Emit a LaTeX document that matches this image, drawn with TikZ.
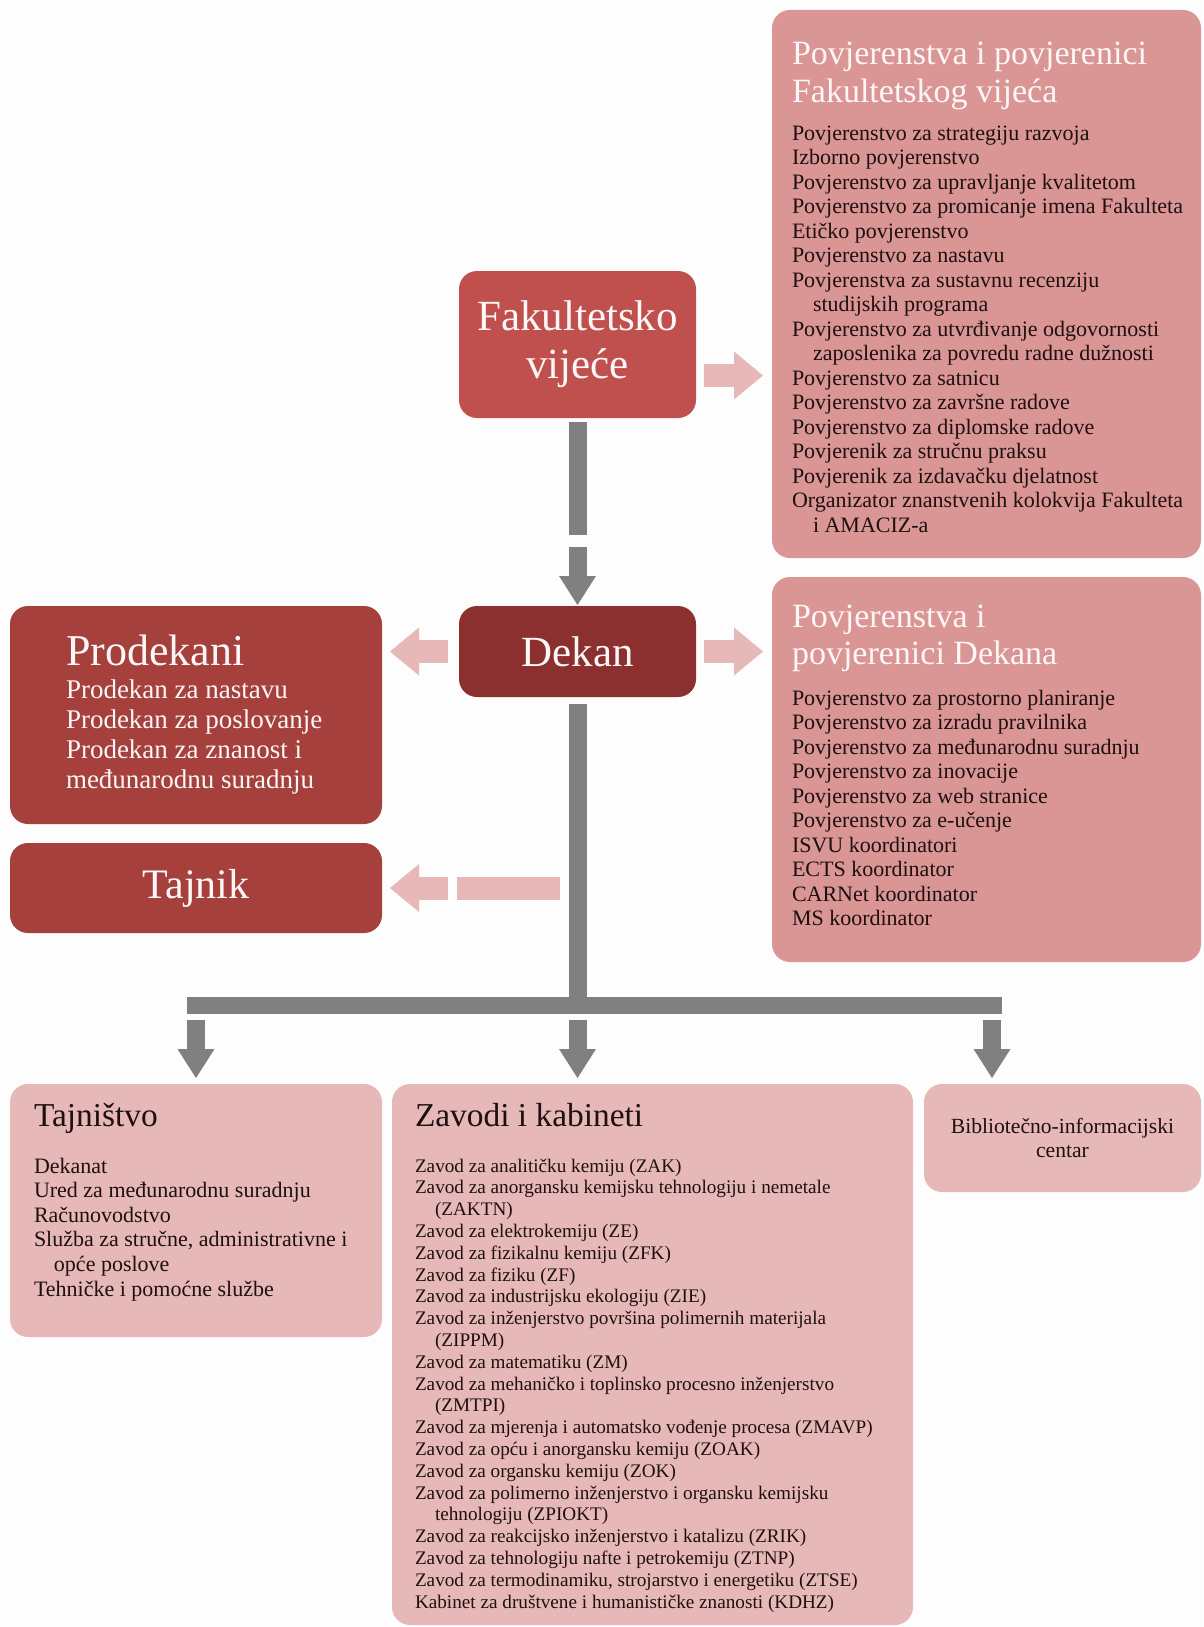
\documentclass[tikz,border=0pt]{standalone}
\usepackage{fontspec}
\setmainfont{Liberation Serif}
\usepackage{tikz}
\usetikzlibrary{arrows.meta, positioning, calc}
\usepackage{xcolor}
\definecolor{vijece}{RGB}{192, 80, 77}
\definecolor{dekanred}{RGB}{140, 47, 47}
\definecolor{prored}{RGB}{165, 64, 61}
\definecolor{rose}{RGB}{217, 150, 148}
\definecolor{blush}{RGB}{230, 185, 184}
\definecolor{flow}{RGB}{128, 128, 128}
\definecolor{ink}{RGB}{30, 16, 16}
\definecolor{paper}{RGB}{253, 253, 253}
\definecolor{snow}{RGB}{253, 247, 247}

\begin{document}
\begin{tikzpicture}[
      x=1pt, y=-1pt,
      every node/.style={inner sep=0pt, outer sep=0pt},
      box/.style={rectangle, rounded corners=18pt, anchor=north west},
      head/.style={text=snow, align=center},
      title/.style={anchor=base west, align=left},
      list/.style={anchor=base west, align=left, text=ink},
      spine/.style={draw=flow, line width=18pt},
      down/.style={draw=flow, line width=18pt,
                   -{Triangle[width=37pt, length=29pt, line width=0pt]}},
      side/.style={draw=blush, line width=23pt,
                   -{Triangle[width=48pt, length=29pt, line width=0pt]}}
    ]
    \fill[paper] (0,0) rectangle (1203,1627);
    \useasboundingbox (0,0) rectangle (1203,1627);

    % vijece i dekan
    \node[box, fill=vijece, minimum width=237pt, minimum height=147pt, head,
          font=\fontsize{43}{48}\selectfont] (fv) at (459,271) {Fakultetsko\\vijeće};
    \node[box, fill=dekanred, minimum width=237pt, minimum height=91pt, head,
          font=\fontsize{43}{48}\selectfont] (dekan) at (459,606) {Dekan};

    % povjerenstva (base = zadnji redak)
    \node[box, fill=rose, minimum width=429pt, minimum height=548pt] (fvkom) at (772,10) {};
    \node[title, text=snow, font=\fontsize{34}{39}\selectfont] (fvkom-t) at (792,103)
          {Povjerenstva i povjerenici\\Fakultetskog vijeća};
    \node[list, font=\fontsize{22}{24.5}\selectfont] (fvkom-l) at (792,532)
          {Povjerenstvo za strategiju razvoja\\
           Izborno povjerenstvo\\
           Povjerenstvo za upravljanje kvalitetom\\
           Povjerenstvo za promicanje imena Fakulteta\\
           Etičko povjerenstvo\\
           Povjerenstvo za nastavu\\
           Povjerenstva za sustavnu recenziju\\
           \hspace*{21pt}studijskih programa\\
           Povjerenstvo za utvrđivanje odgovornosti\\
           \hspace*{21pt}zaposlenika za povredu radne dužnosti\\
           Povjerenstvo za satnicu\\
           Povjerenstvo za završne radove\\
           Povjerenstvo za diplomske radove\\
           Povjerenik za stručnu praksu\\
           Povjerenik za izdavačku djelatnost\\
           Organizator znanstvenih kolokvija Fakulteta\\
           \hspace*{21pt}i AMACIZ-a};

    \node[box, fill=rose, minimum width=429pt, minimum height=385pt] (dkkom) at (772,577) {};
    \node[title, text=snow, font=\fontsize{34}{37}\selectfont] (dkkom-t) at (792,664)
          {Povjerenstva i\\povjerenici Dekana};
    \node[list, font=\fontsize{22}{24.5}\selectfont] (dkkom-l) at (792,925.5)
          {Povjerenstvo za prostorno planiranje\\
           Povjerenstvo za izradu pravilnika\\
           Povjerenstvo za međunarodnu suradnju\\
           Povjerenstvo za inovacije\\
           Povjerenstvo za web stranice\\
           Povjerenstvo za e-učenje\\
           ISVU koordinatori\\
           ECTS koordinator\\
           CARNet koordinator\\
           MS koordinator};

    % prodekani i tajnik
    \node[box, fill=prored, minimum width=372pt, minimum height=218pt] (prodekani) at (10,606) {};
    \node[title, text=snow, font=\fontsize{44}{48}\selectfont] (prodekani-t) at (66,665) {Prodekani};
    \node[list, text=snow, font=\fontsize{27}{30}\selectfont] (prodekani-l) at (66,788)
          {Prodekan za nastavu\\Prodekan za poslovanje\\Prodekan za znanost i\\međunarodnu suradnju};
    \node[box, fill=prored, minimum width=372pt, minimum height=90pt, head,
          font=\fontsize{42}{46}\selectfont] (tajnik) at (10,843) {Tajnik};

    % donja razina
    \node[box, fill=blush, minimum width=372pt, minimum height=253pt] (tajnistvo) at (10,1084) {};
    \node[title, text=ink, font=\fontsize{33.4}{36}\selectfont] (tajnistvo-t) at (34,1126) {Tajništvo};
    \node[list, font=\fontsize{22}{24.6}\selectfont] (tajnistvo-l) at (34,1296)
          {Dekanat\\
           Ured za međunarodnu suradnju\\
           Računovodstvo\\
           Služba za stručne, administrativne i\\
           \hspace*{20pt}opće poslove\\
           Tehničke i pomoćne službe};

    \node[box, fill=blush, minimum width=521pt, minimum height=541pt] (zavodi) at (392,1084) {};
    \node[title, text=ink, font=\fontsize{33.4}{36}\selectfont] (zavodi-t) at (415,1126) {Zavodi i kabineti};
    \node[list, font=\fontsize{19.2}{21.8}\selectfont] (zavodi-l) at (415,1608)
          {Zavod za analitičku kemiju (ZAK)\\
           Zavod za anorgansku kemijsku tehnologiju i nemetale\\
           \hspace*{20pt}(ZAKTN)\\
           Zavod za elektrokemiju (ZE)\\
           Zavod za fizikalnu kemiju (ZFK)\\
           Zavod za fiziku (ZF)\\
           Zavod za industrijsku ekologiju (ZIE)\\
           Zavod za inženjerstvo površina polimernih materijala\\
           \hspace*{20pt}(ZIPPM)\\
           Zavod za matematiku (ZM)\\
           Zavod za mehaničko i toplinsko procesno inženjerstvo\\
           \hspace*{20pt}(ZMTPI)\\
           Zavod za mjerenja i automatsko vođenje procesa (ZMAVP)\\
           Zavod za opću i anorgansku kemiju (ZOAK)\\
           Zavod za organsku kemiju (ZOK)\\
           Zavod za polimerno inženjerstvo i organsku kemijsku\\
           \hspace*{20pt}tehnologiju (ZPIOKT)\\
           Zavod za reakcijsko inženjerstvo i katalizu (ZRIK)\\
           Zavod za tehnologiju nafte i petrokemiju (ZTNP)\\
           Zavod za termodinamiku, strojarstvo i energetiku (ZTSE)\\
           Kabinet za društvene i humanističke znanosti (KDHZ)};

    \node[box, fill=blush, minimum width=277pt, minimum height=108pt, align=center, text=ink,
          font=\fontsize{21.6}{24}\selectfont] (biblio) at (924,1084)
          {Bibliotečno-informacijski\\centar};

    % sivi tok
    \coordinate (fvcut) at (577.5,535);
    \coordinate (fvresume) at (577.5,547);
    \draw[spine] ($(fv.south)+(0,4)$) -- (fvcut);
    \draw[down] (fvresume) -- ($(dekan.north)+(0,-1)$);

    \coordinate (hub) at (577.5,1005.5);
    \coordinate (bar-w) at (187,1005.5);
    \coordinate (bar-e) at (1002,1005.5);
    \draw[spine] ($(dekan.south)+(0,7)$) -- (hub);
    \draw[spine, line width=17pt] (bar-w) -- (bar-e);

    \coordinate (drop-a) at (196,1020);
    \coordinate (drop-b) at (577.5,1020);
    \coordinate (drop-c) at (992,1020);
    \draw[down] (drop-a) -- ($(tajnistvo.north)+(0,-6)$);
    \draw[down] (drop-b) -- ($(drop-b |- zavodi.north)+(0,-6)$);
    \draw[down] (drop-c) -- ($(drop-c |- biblio.north)+(0,-6)$);

    % ruzicaste strelice
    \draw[side] ($(fv.east)+(8,31)$) -- ($(fv.east -| fvkom.west)+(-9,31)$);
    \draw[side] ($(dekan.east)+(8,0)$) -- ($(dekan.east -| dkkom.west)+(-9,0)$);
    \draw[side] ($(dekan.west)+(-11,0)$) -- ($(dekan.west -| prodekani.east)+(8,0)$);
    \coordinate (tj-cut) at (560,888);
    \draw[draw=blush, line width=23pt] (tj-cut) -- ($(tajnik.east)+(75,0)$);
    \draw[side] ($(tajnik.east)+(66,0)$) -- ($(tajnik.east)+(8,0)$);
  \end{tikzpicture}
\end{document}
